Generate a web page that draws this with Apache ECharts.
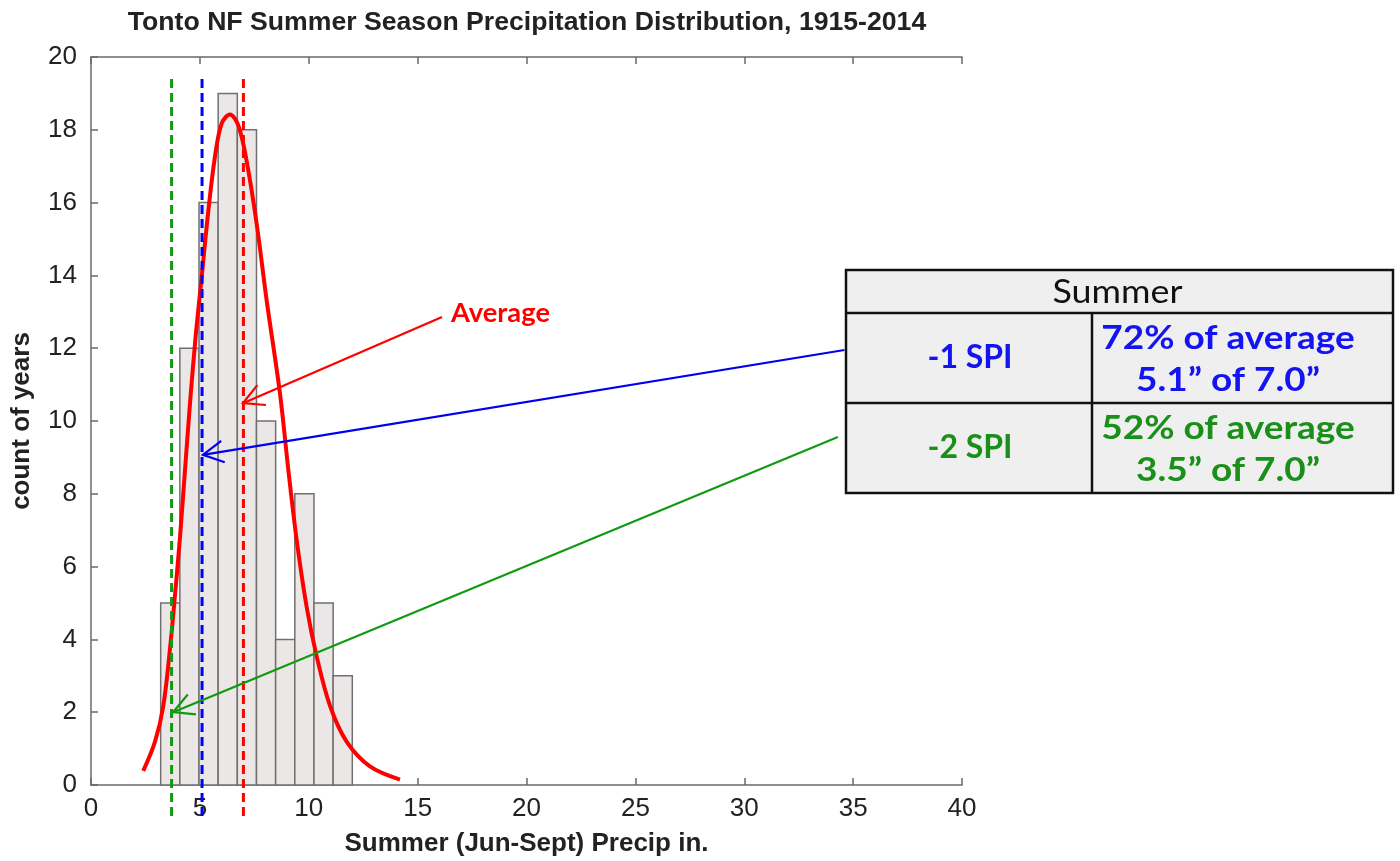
<!DOCTYPE html>
<html><head><meta charset="utf-8">
<script src="https://cdn.jsdelivr.net/npm/echarts@6/dist/echarts.min.js"></script>
<style>html,body{margin:0;padding:0;background:#fff}#c{width:1400px;height:861px}</style>
</head><body><div id="c"></div><script>
// ---- data ----
const titleText = 'Tonto NF Summer Season Precipitation Distribution, 1915-2014';
const xAxisName = 'Summer (Jun-Sept) Precip in.';
const yAxisName = 'count of years';
const binEdges = [3.2, 4.08, 4.96, 5.84, 6.72, 7.6, 8.48, 9.36, 10.24, 11.12, 12.0];
const counts = [5, 12, 16, 19, 18, 10, 4, 8, 5, 3];
const fitX = [2.40, 2.94, 3.32, 3.63, 3.86, 4.09, 4.32, 4.55, 4.81, 5.08, 5.39, 5.69, 6.0, 6.38, 6.77, 7.15, 7.61, 8.07, 8.68, 9.06, 9.45, 9.91, 10.37, 10.98, 11.74, 12.81, 14.19];
const fitY = [0.39, 1.19, 2.17, 3.76, 5.23, 6.83, 8.67, 10.51, 12.35, 13.94, 15.78, 17.25, 18.17, 18.42, 18.11, 17.13, 15.41, 13.3, 10.75, 8.67, 6.71, 4.87, 3.52, 2.17, 1.19, 0.51, 0.15];
const refNames = ['-2 SPI', '-1 SPI', 'Average'];
const refValues = [3.7, 5.1, 7.0];
const refColors = ['#129a12', '#0000ff', '#ff0000'];
const arrowStarts = [[34.3, 9.56], [34.6, 11.95], [16.12, 12.86]];
const arrowTips = [[3.77, 2.0], [5.14, 9.07], [6.98, 10.49]];
const arrowColors = ['#109a10', '#0000ee', '#ff0000'];
const tableHeader = 'Summer';
const tableRowLabels = ['-1 SPI', '-2 SPI'];
const tableRowLine1 = ['72% of average', '52% of average'];
const tableRowLine2 = ['5.1\u201d of 7.0\u201d', '3.5\u201d of 7.0\u201d'];
const tableColors = ['#1414f0', '#1a8f1a'];

// ---- chart ----
const chart = echarts.init(document.getElementById('c'));
const barData = counts.map((c, i) => [binEdges[i], binEdges[i + 1], c]);
const fitData = fitX.map((x, i) => [x, fitY[i]]);
const arrowData = arrowStarts.map((s, i) => [s[0], s[1], arrowTips[i][0], arrowTips[i][1], i]);

const axisColor = '#6a6a6a';
const arial = '"Liberation Sans", Arial, sans-serif';
const series = [
  {
    type: 'custom', name: 'hist', data: barData, encode: { x: [0, 1], y: 2 },
    renderItem(params, api) {
      const p0 = api.coord([api.value(0), api.value(2)]);
      const p1 = api.coord([api.value(1), 0]);
      return { type: 'rect', shape: { x: p0[0], y: p0[1], width: p1[0] - p0[0], height: p1[1] - p0[1] },
        style: { fill: '#ebe7e7', stroke: '#707070', lineWidth: 1.5 } };
    }, z: 1
  },
  {
    type: 'line', name: 'fit', data: fitData, smooth: 0.35, symbol: 'none',
    lineStyle: { color: '#ff0000', width: 4 }, z: 3
  }
];
refValues.forEach((v, i) => {
  series.push({
    type: 'line', name: refNames[i], data: [[v, -0.85], [v, 19.45]], symbol: 'none', clip: false,
    lineStyle: { color: refColors[i], width: 3, type: [9, 5] }, z: 4
  });
});
series.push({
  type: 'custom', name: 'arrows', data: arrowData, clip: false, z: 5,
  renderItem(params, api) {
    const a = api.coord([api.value(0), api.value(1)]);
    const b = api.coord([api.value(2), api.value(3)]);
    const col = arrowColors[api.value(4)];
    const ang = Math.atan2(a[1] - b[1], a[0] - b[0]);
    const L = 23, d = 28 * Math.PI / 180;
    const h1 = [b[0] + L * Math.cos(ang + d), b[1] + L * Math.sin(ang + d)];
    const h2 = [b[0] + L * Math.cos(ang - d), b[1] + L * Math.sin(ang - d)];
    return { type: 'group', children: [
      { type: 'line', shape: { x1: a[0], y1: a[1], x2: b[0], y2: b[1] }, style: { stroke: col, lineWidth: 2.2 } },
      { type: 'polyline', shape: { points: [h1, b, h2] }, style: { stroke: col, lineWidth: 2.2, fill: null } }
    ] };
  }
});

const TX = 846, TY = 270, TW = 547, HH = 43, RH = 90, CX = 1092;
const font = 'Lato, "Open Sans", sans-serif';
const graphic = [
  { type: 'text', x: 527, y: 23, scaleX: 1.065, style: { text: titleText, font: 'bold 25px ' + arial, fill: '#222', align: 'center', verticalAlign: 'middle' } },
  { type: 'text', x: 451, y: 314, scaleX: 1.05, style: { text: 'Average', font: 'bold 26px ' + font, fill: '#ff0000', verticalAlign: 'middle' } },
  { type: 'rect', shape: { x: TX, y: TY, width: TW, height: HH + 2 * RH }, style: { fill: '#efefef', stroke: '#111', lineWidth: 2.5 }, z: 10 },
  { type: 'line', shape: { x1: TX, y1: TY + HH, x2: TX + TW, y2: TY + HH }, style: { stroke: '#111', lineWidth: 2.5 }, z: 11 },
  { type: 'line', shape: { x1: TX, y1: TY + HH + RH, x2: TX + TW, y2: TY + HH + RH }, style: { stroke: '#111', lineWidth: 2.5 }, z: 11 },
  { type: 'line', shape: { x1: CX, y1: TY + HH, x2: CX, y2: TY + HH + 2 * RH }, style: { stroke: '#111', lineWidth: 2.5 }, z: 11 },
  { type: 'text', x: TX + TW / 2 - 2, y: TY + HH / 2 + 1, scaleX: 1.12, style: { text: tableHeader, font: '32px ' + font, fill: '#111', align: 'center', verticalAlign: 'middle' }, z: 12 }
];
tableRowLabels.forEach((t, i) => {
  const cy = TY + HH + RH * i + RH / 2;
  graphic.push({ type: 'text', x: 970, y: cy, style: { text: t, font: 'bold 32px ' + font, fill: tableColors[i], align: 'center', verticalAlign: 'middle' }, z: 12 });
  graphic.push({ type: 'text', x: 1228, y: cy - 20, scaleX: 1.12, style: { text: tableRowLine1[i], font: 'bold 33px ' + font, fill: tableColors[i], align: 'center', verticalAlign: 'middle' }, z: 12 });
  graphic.push({ type: 'text', x: 1228, y: cy + 22, scaleX: 1.12, style: { text: tableRowLine2[i], font: 'bold 33px ' + font, fill: tableColors[i], align: 'center', verticalAlign: 'middle' }, z: 12 });
});

chart.setOption({
  animation: false,
  backgroundColor: '#fff',
  grid: { left: 91, top: 57, right: 438, bottom: 76, containLabel: false, outerBoundsMode: 'none' },
  xAxis: [
    { type: 'value', position: 'bottom', min: 0, max: 40, interval: 5,
      axisLine: { show: true, onZero: false, lineStyle: { color: axisColor, width: 1.5 } },
      axisTick: { show: true, inside: true, length: 7, lineStyle: { color: axisColor, width: 1.5 } },
      axisLabel: { fontSize: 26, color: '#222', margin: 11, fontFamily: arial },
      splitLine: { show: false },
      name: xAxisName, nameLocation: 'middle', nameGap: 46,
      nameTextStyle: { fontSize: 26, fontWeight: 'bold', color: '#222', fontFamily: arial } },
    { type: 'value', position: 'top', min: 0, max: 40, interval: 5,
      axisLine: { show: true, onZero: false, lineStyle: { color: axisColor, width: 1.5 } },
      axisTick: { show: true, inside: true, length: 7, lineStyle: { color: axisColor, width: 1.5 } },
      axisLabel: { show: false }, splitLine: { show: false } }
  ],
  yAxis: [
    { type: 'value', min: 0, max: 20, interval: 2,
      axisLine: { show: true, onZero: false, lineStyle: { color: axisColor, width: 1.5 } },
      axisTick: { show: true, inside: true, length: 7, lineStyle: { color: axisColor, width: 1.5 } },
      axisLabel: { fontSize: 26, color: '#222', margin: 14, fontFamily: arial },
      splitLine: { show: false },
      name: yAxisName, nameLocation: 'middle', nameRotate: 90, nameGap: 56,
      nameTextStyle: { fontSize: 26, fontWeight: 'bold', color: '#222', fontFamily: arial } }
  ],
  series,
  graphic
});
</script></body></html>
